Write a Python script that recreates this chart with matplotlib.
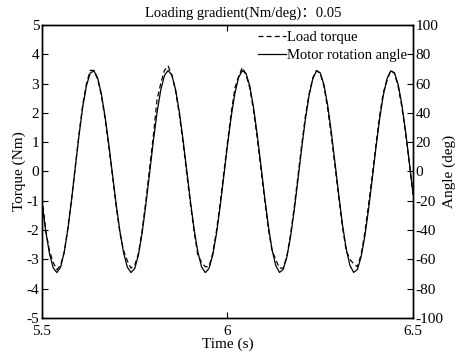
import matplotlib
matplotlib.use('Agg')
import matplotlib.pyplot as plt

plt.rcParams['font.family'] = ['Liberation Serif', 'Noto Sans CJK SC']
plt.rcParams['font.size'] = 11
plt.rcParams['axes.unicode_minus'] = False

# time samples (s)
time_s = [5.50, 5.51, 5.52, 5.53, 5.54, 5.55, 5.56, 5.57, 5.58, 5.59,
          5.60, 5.61, 5.62, 5.63, 5.64, 5.65, 5.66, 5.67, 5.68, 5.69,
          5.70, 5.71, 5.72, 5.73, 5.74, 5.75, 5.76, 5.77, 5.78, 5.79,
          5.80, 5.81, 5.82, 5.83, 5.84, 5.85, 5.86, 5.87, 5.88, 5.89,
          5.90, 5.91, 5.92, 5.93, 5.94, 5.95, 5.96, 5.97, 5.98, 5.99,
          6.00, 6.01, 6.02, 6.03, 6.04, 6.05, 6.06, 6.07, 6.08, 6.09,
          6.10, 6.11, 6.12, 6.13, 6.14, 6.15, 6.16, 6.17, 6.18, 6.19,
          6.20, 6.21, 6.22, 6.23, 6.24, 6.25, 6.26, 6.27, 6.28, 6.29,
          6.30, 6.31, 6.32, 6.33, 6.34, 6.35, 6.36, 6.37, 6.38, 6.39,
          6.40, 6.41, 6.42, 6.43, 6.44, 6.45, 6.46, 6.47, 6.48, 6.49,
          6.50]

# motor rotation angle (deg), right axis
motor_angle = [-21.3, -40.6, -55.8, -65.6, -69.0, -65.4, -55.1, -38.9, -18.8, 3.3,
               25.0, 44.4, 58.8, 67.2, 68.7, 63.8, 53.0, 37.5, 18.5, -2.0,
               -22.5, -40.8, -55.6, -65.3, -69.0, -66.2, -56.9, -41.8, -22.6, -1.1,
               20.5, 40.1, 55.5, 65.5, 69.0, 65.7, 56.1, 41.0, 22.1, 1.1,
               -20.1, -39.4, -54.8, -65.0, -69.0, -66.3, -57.3, -42.8, -24.2, -3.3,
               18.0, 37.5, 53.5, 64.2, 68.9, 66.9, 58.3, 44.0, 25.4, 4.3,
               -17.2, -37.0, -53.2, -64.1, -68.9, -66.9, -58.4, -44.4, -26.2, -5.4,
               16.0, 35.7, 52.1, 63.4, 68.7, 67.3, 59.2, 45.2, 26.6, 5.4,
               -16.2, -36.4, -52.9, -64.1, -68.9, -66.9, -58.4, -44.4, -26.2, -5.4,
               16.0, 35.7, 52.1, 63.4, 68.7, 67.3, 59.4, 45.6, 27.4, 6.5,
               -15.0]

# load torque (Nm), left axis
load_torque = [-0.9, -2.0, -2.7, -3.1, -3.35, -3.2, -2.75, -1.9, -0.9, 0.2,
               1.3, 2.3, 3.0, 3.45, 3.45, 3.15, 2.6, 1.8, 0.85, -0.15,
               -1.2, -2.1, -2.7, -3.05, -3.3, -3.2, -2.8, -2.0, -1.0, 0.1,
               1.2, 2.45, 3.0, 3.45, 3.6, 3.3, 2.75, 1.95, 1.0, -0.05,
               -1.1, -2.05, -2.85, -3.1, -3.25, -3.25, -2.8, -2.05, -1.1, -0.05,
               1.0, 2.0, 2.85, 3.25, 3.55, 3.3, 2.85, 2.1, 1.15, 0.1,
               -0.95, -1.95, -2.7, -3.0, -3.3, -3.3, -2.9, -2.15, -1.2, -0.15,
               0.9, 1.9, 2.65, 3.2, 3.45, 3.35, 2.9, 2.15, 1.2, 0.15,
               -0.9, -1.9, -2.7, -3.0, -3.15, -3.25, -2.85, -2.1, -1.15, -0.15,
               0.9, 1.9, 2.7, 3.1, 3.45, 3.35, 2.9, 2.2, 1.3, 0.3,
               -0.8]

x_ticks = [5.5, 6, 6.5]
x_tick_labels = ['5.5', '6', '6.5']
torque_ticks = [-5, -4, -3, -2, -1, 0, 1, 2, 3, 4, 5]
angle_ticks = [-100, -80, -60, -40, -20, 0, 20, 40, 60, 80, 100]

fig = plt.figure(figsize=(4.55, 3.53), dpi=100)
ax = fig.add_axes([0.0923, 0.0992, 0.8154, 0.8300])
ax2 = ax.twinx()

l1, = ax.plot(time_s, load_torque, color='black', linewidth=0.9,
              linestyle=(0, (4, 2.5)), label='Load torque')
l2, = ax2.plot(time_s, motor_angle, color='black', linewidth=0.9,
               label='Motor rotation angle')

ax.set_xlim(5.5, 6.5)
ax.set_ylim(-5, 5)
ax2.set_ylim(-100, 100)
ax.set_xticks(x_ticks)
ax.set_xticklabels(x_tick_labels)
ax.set_yticks(torque_ticks)
ax2.set_yticks(angle_ticks)

ax.tick_params(direction='in', length=4, width=0.8, top=True, pad=2, labelsize=11)
ax.tick_params(axis='x', pad=5)
ax2.tick_params(direction='in', length=4, width=0.8, pad=2, labelsize=11)
for a in (ax, ax2):
    for s in a.spines.values():
        s.set_linewidth(1.0)

ax.set_xlabel('Time (s)', labelpad=0, fontsize=11)
ax.set_ylabel('Torque (Nm)', labelpad=0, fontsize=11)
ax2.set_ylabel('Angle (deg)', labelpad=-1, fontsize=11)

fig.text(0.534, 0.963, 'Loading gradient(Nm/deg)\uff1a0.05', ha='center', va='center',
         fontsize=10.5)

leg = ax2.legend(handles=[l1, l2], loc='upper right', frameon=False, fontsize=10.5,
                 handlelength=1.9, handletextpad=0.1, labelspacing=0.3,
                 borderaxespad=0.3, borderpad=0.1)

fig.savefig('out.png', dpi=100)
